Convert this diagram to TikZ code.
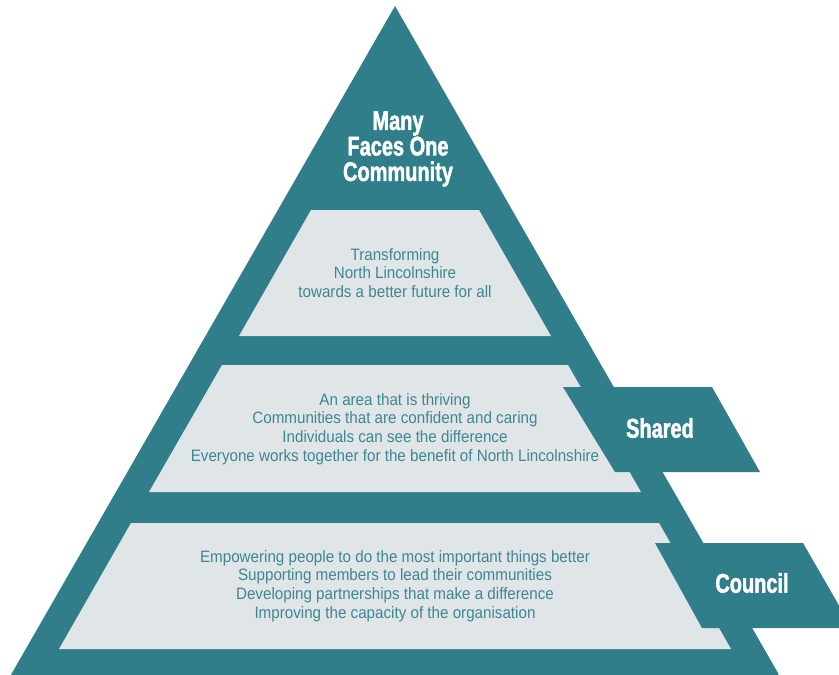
\documentclass[tikz,border=0pt]{standalone}
\usepackage{fontspec}
\setmainfont{Liberation Sans}
\newfontfamily\headfont{Liberation Sans}[FakeStretch=0.74,FakeBold=1.6]
\newfontfamily\bodyfont{Liberation Sans}[FakeStretch=0.92]
\definecolor{tealdark}{RGB}{47,126,138}
\definecolor{tealtext}{RGB}{62,135,146}
\definecolor{panelgrey}{RGB}{224,229,231}
\tikzset{
  pyr/.style={fill=tealdark},
  panel/.style={fill=panelgrey},
  banner/.style={fill=tealdark},
  bodytext/.style={inner sep=0pt, align=center, text=tealtext,
    font=\bodyfont\fontsize{16.5}{18.7}\selectfont},
  headtext/.style={inner sep=0pt, align=center, text=white,
    font=\headfont\bfseries\fontsize{27}{25.5}\selectfont},
  bannertext/.style={inner sep=0pt, text=white,
    font=\headfont\bfseries\fontsize{27}{25}\selectfont}
}
\begin{document}
\begin{tikzpicture}[x=1pt,y=-1pt]
\useasboundingbox (0,0) rectangle (839,675);
\clip (0,0) rectangle (839,675);
% main pyramid
\path[pyr] (395,6) -- (778,673) -- (12,673) -- cycle;
\path[pyr] (12,673) -- (778,673) -- (780,680) -- (8,680) -- cycle;
% panels
\path[panel] (311,210) -- (479,210) -- (551,336) -- (239,336) -- cycle;
\path[panel] (222,365) -- (568,365) -- (641,492) -- (149,492) -- cycle;
\path[panel] (131,523) -- (659,523) -- (731,649) -- (59,649) -- cycle;
% banners
\path[banner] (563,387) -- (712,387) -- (760,472) -- (615,472) -- cycle;
\path[banner] (655,543) -- (803,543) -- (852,628) -- (702,628) -- cycle;
% texts
\node[headtext] (title) at (398,149) {Many\\Faces One\\Community};
\node[bodytext] (vision) at (395,273) {Transforming\\North Lincolnshire\\towards a better future for all};
\node[bodytext] (shared) at (395,429) {An area that is thriving\\Communities that are confident and caring\\Individuals can see the difference\\Everyone works together for the benefit of North Lincolnshire};
\node[bodytext] (council) at (395,586) {Empowering people to do the most important things better\\Supporting members to lead their communities\\Developing partnerships that make a difference\\Improving the capacity of the organisation};
\node[bannertext] (sharedlabel) at (660,428) {Shared};
\node[bannertext] (councillabel) at (752,583) {Council};
\end{tikzpicture}
\end{document}
